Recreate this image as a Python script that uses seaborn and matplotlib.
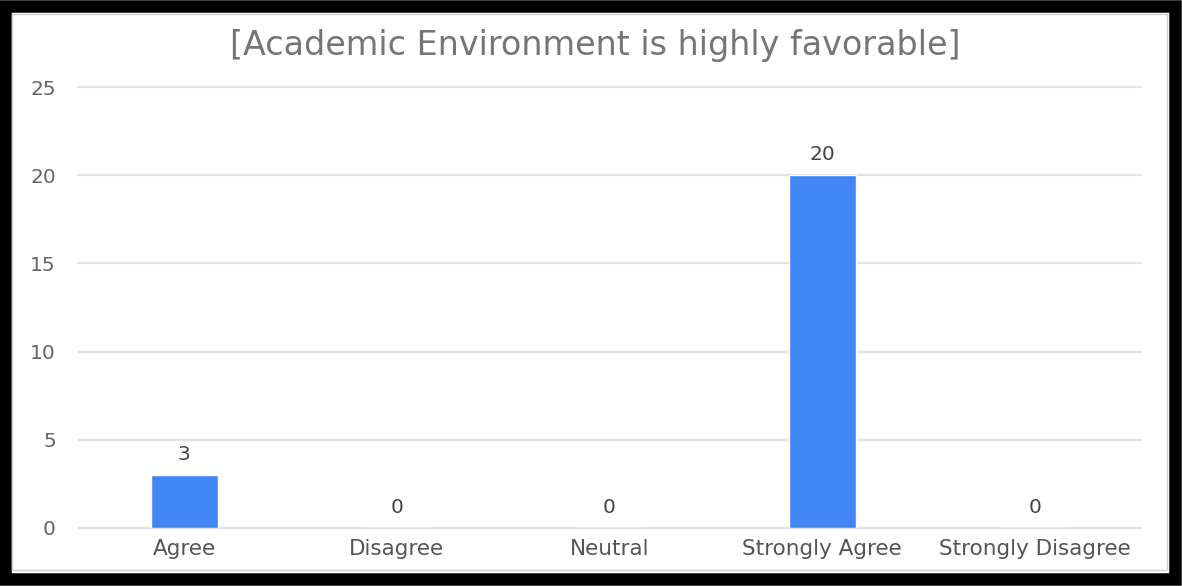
import matplotlib
matplotlib.use("Agg")
import matplotlib.pyplot as plt
import seaborn as sns
import pandas as pd
from matplotlib.patches import Rectangle

categories = ["Agree", "Disagree", "Neutral", "Strongly Agree", "Strongly Disagree"]
counts = [3, 0, 0, 20, 0]
y_ticks = [0, 5, 10, 15, 20, 25]
title = "[Academic Environment is highly favorable]"

sns.set_theme(style="white")
plt.rcParams["font.family"] = ["DejaVu Sans"]

df = pd.DataFrame({"category": categories, "count": counts})

fig = plt.figure(figsize=(11.82, 5.86), dpi=100)
ax = fig.add_axes([0.066, 0.099, 0.8993, 0.7525])

sns.barplot(data=df, x="category", y="count", color="#4285F4", width=0.315,
            saturation=1, ax=ax, zorder=3)

ax.set_ylim(0, 25)
ax.set_xlim(-0.5, len(categories) - 0.5)
ax.set_yticks(y_ticks)
ax.set_yticklabels([str(t) for t in y_ticks])
ax.grid(axis="y", color="#e3e3e3", linewidth=1.6, zorder=0)
for gl in ax.get_ygridlines():
    gl.set_clip_on(False)
ax.grid(axis="x", visible=False)
for s in ax.spines.values():
    s.set_visible(False)
ax.set_xlabel("")
ax.set_ylabel("")
ax.tick_params(axis="y", colors="#666666", labelsize=14.5, length=0, pad=16)
ax.tick_params(axis="x", colors="#666666", labelsize=15.5, length=0, pad=8)
for lab in ax.get_yticklabels():
    lab.set_color("#666666")
for lab in ax.get_xticklabels():
    lab.set_color("#555555")

for cont in ax.containers:
    ax.bar_label(cont, labels=[str(v) for v in counts], padding=8,
                 fontsize=14.5, color="#444444")

fig.text(0.504, 0.922, title, ha="center", va="center", fontsize=24,
         color="#757575")

# outer black frame and thin inner gray line
fig.patches.append(Rectangle((0.004, 0.012), 0.99, 0.978, transform=fig.transFigure,
                             fill=False, edgecolor="black", linewidth=9, zorder=10))
fig.patches.append(Rectangle((0.0105, 0.028), 0.977, 0.948, transform=fig.transFigure,
                             fill=False, edgecolor="#d0d0d0", linewidth=1, zorder=10))

fig.savefig("out.png", dpi=100, facecolor="white")
